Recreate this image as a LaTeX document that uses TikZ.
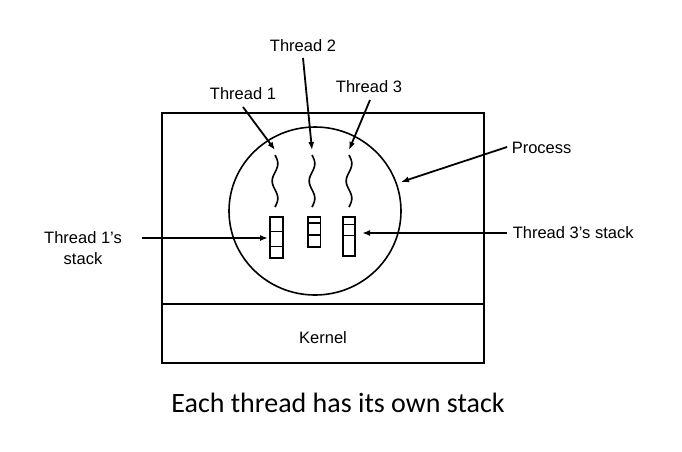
\documentclass[tikz,border=0pt]{standalone}
\usepackage{fontspec}
\setmainfont{Liberation Sans}
\newfontfamily\capfont{Carlito}
\usetikzlibrary{arrows.meta}
\begin{document}
\begin{tikzpicture}[x=1pt,y=-1pt,
  line width=1.6pt,
  lbl/.style={font=\fontsize{16.5}{19}\selectfont, inner sep=0pt},
  arr/.style={-{Latex[length=8pt,width=6pt]}, line width=1.8pt},
  stk/.style={line width=1.5pt}]
\useasboundingbox (0,0) rectangle (682,451);
% process box and kernel
\draw (162,113) coordinate (bxtl) rectangle (484,363) coordinate (bxbr);
\draw (162,304) coordinate (kl) -- (484,304) coordinate (kr);
\node[lbl] (kernel) at (323,338) {Kernel};
% process circle
\draw (315,211) ellipse [x radius=86, y radius=84];
\coordinate (circ) at (401,182);
% wavy threads
\foreach \x/\n in {275/1,312/2,349/3}{
  \draw[line width=1.6pt] plot[domain=0:540,samples=50,smooth,variable=\t] ({\x+2.8*sin(\t)},{155+\t/540*52});
  \coordinate (w\n) at (\x,150);
}
% stacks
\draw[stk] (270,217) rectangle (283,258);
\draw[stk] (270,231.7) -- (283,231.7) (270,246.7) -- (283,246.7);
\draw[stk] (308,217) rectangle (320.5,247);
\draw[stk] (308,223) -- (320.5,223) (308,235) -- (320.5,235);
\draw[stk] (343,217) rectangle (355,256);
\draw[stk] (343,224.3) -- (355,224.3) (343,235.7) -- (355,235.7);
\coordinate (s1) at (268,238);
\coordinate (s3) at (362,233);
% labels
\node[lbl] (t1) at (243,94) {Thread 1};
\node[lbl] (t2) at (303,46) {Thread 2};
\node[lbl] (t3) at (369,87) {Thread 3};
\node[lbl,anchor=west] (proc) at (511,148) {Process};
\node[lbl,anchor=west] (t3s) at (512,233) {Thread 3's stack};
\node[lbl,align=center] (t1s) at (83,248) {Thread 1's\\[2pt]stack};
% arrows
\coordinate (t1a) at (243,107);
\coordinate (t2a) at (303,58);
\coordinate (t3a) at (370,100);
\draw[arr] (t1a) -- (w1);
\draw[arr] (t2a) -- (w2);
\draw[arr] (t3a) -- (w3);
\coordinate (pa) at (507,147);
\draw[arr] (pa) -- (circ);
\coordinate (t3sa) at (507,233);
\draw[arr] (t3sa) -- (s3);
\coordinate (t1sa) at (142,238);
\draw[arr] (t1sa) -- (s1);
% caption
\node[font=\capfont\fontsize{28}{30}\selectfont, inner sep=0pt] (cap) at (338,403) {Each thread has its own stack};
\end{tikzpicture}
\end{document}
